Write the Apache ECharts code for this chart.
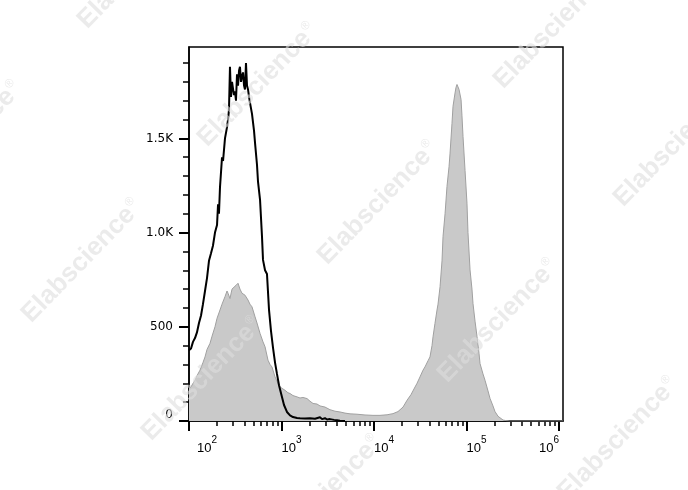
<!DOCTYPE html>
<html>
<head>
<meta charset="utf-8">
<script src="https://cdn.jsdelivr.net/npm/echarts@6/dist/echarts.min.js"></script>
<style>html,body{margin:0;padding:0;background:#fff}#c{width:688px;height:490px}</style>
</head>
<body>
<div id="c"></div>
<script>
// ---- data (x in log10 of fluorescence intensity, y in cell counts) ----
const blackLogX = [2.000,2.022,2.043,2.065,2.086,2.108,2.130,2.151,2.173,2.195,2.216,2.238,2.259,2.281,2.303,2.314,2.324,2.335,2.346,2.357,2.368,2.389,2.411,2.422,2.432,2.443,2.454,2.465,2.476,2.486,2.497,2.508,2.519,2.530,2.541,2.551,2.562,2.573,2.584,2.595,2.605,2.616,2.627,2.638,2.649,2.659,2.681,2.703,2.714,2.735,2.746,2.768,2.789,2.800,2.822,2.843,2.865,2.886,2.908,2.930,2.951,2.973,3.005,3.027,3.059,3.092,3.124,3.168,3.200,3.254,3.308,3.362,3.416,3.438,3.470,3.492,3.524,3.568,3.600,3.632,3.686];
const blackCounts = [376,385,420,440,470,520,560,620,690,760,850,890,930,1000,1040,1150,1100,1240,1320,1400,1380,1500,1560,1600,1650,1880,1720,1800,1790,1730,1750,1700,1840,1780,1860,1880,1800,1830,1850,1780,1760,1900,1780,1760,1720,1690,1630,1540,1475,1360,1270,1174,980,855,800,780,590,480,390,310,250,190,128,85,48,30,21,16,14,13,15,12,20,10,15,8,10,6,4,2,0];

const grayLogX = [2.000,2.022,2.043,2.065,2.086,2.119,2.151,2.173,2.195,2.227,2.249,2.281,2.303,2.335,2.357,2.389,2.411,2.422,2.443,2.465,2.486,2.508,2.530,2.551,2.573,2.605,2.638,2.659,2.681,2.714,2.735,2.768,2.800,2.822,2.854,2.876,2.897,2.930,2.962,2.984,3.016,3.038,3.070,3.092,3.124,3.168,3.200,3.232,3.276,3.308,3.341,3.384,3.416,3.470,3.524,3.578,3.632,3.686,3.741,3.816,3.903,3.989,4.065,4.141,4.205,4.259,4.314,4.357,4.400,4.432,4.465,4.497,4.530,4.551,4.584,4.605,4.627,4.638,4.659,4.681,4.692,4.714,4.735,4.746,4.768,4.789,4.811,4.822,4.843,4.854,4.876,4.886,4.897,4.908,4.919,4.941,4.951,4.962,4.984,5.005,5.016,5.038,5.059,5.070,5.092,5.114,5.135,5.146,5.178,5.200,5.232,5.254,5.286,5.308,5.341,5.362,5.395,5.427,5.470,6.043];
const grayCounts = [175,181,200,216,240,270,310,340,380,412,450,500,545,589,620,660,690,678,650,700,690,720,731,700,678,668,642,620,606,553,520,465,420,394,323,300,287,234,200,181,170,163,150,146,135,128,122,125,119,105,93,90,80,74,60,52,48,42,38,36,32,30,30,33,39,50,74,110,140,170,200,234,270,287,320,340,400,447,518,589,620,713,850,979,1100,1245,1350,1422,1580,1670,1741,1770,1786,1777,1760,1706,1620,1511,1330,1156,1000,802,700,624,530,447,360,305,250,216,160,120,80,50,25,15,5,2,0,0];

const xMajorTicks = [2, 3, 4, 5, 6];                       // decades 10^2 .. 10^6
const xMinorIntensities = [200,300,400,500,600,700,800,900,
  2000,3000,4000,5000,6000,7000,8000,9000,
  20000,30000,40000,50000,60000,70000,80000,90000,
  200000,300000,400000,500000,600000,700000,800000,900000,
  2000000];
const yMajorTicks = [0, 500, 1000, 1500];
const yMinorTicks = [100,200,300,400,600,700,800,900,1100,1200,1300,1400,1600,1700,1800,1900];

// ---- chart ----
const X_MIN = 2, X_MAX = 6.043, Y_MAX = 1985;
const rect = {left: 189, top: 47, width: 374, height: 374};
const zip = (xs, ys) => xs.map((x, i) => [x, ys[i]]);

const wmCenters = [[138,-33],[258,85],[-38,143],[554,27],[378,203],[82,261],[498,321],[674,145],[202,379],[618,439],[322,497]];
const wmColor = 'rgba(222,222,222,0.6)';
const watermarks = wmCenters.map(c => ({
  type: 'text', x: c[0], y: c[1], rotation: 0.8, z: 100, silent: true,
  style: {
    text: '{a|Elabscience}{r|®}', align: 'center', verticalAlign: 'middle',
    rich: {
      a: {fontFamily: 'Liberation Sans', fontWeight: 'bold', fontSize: 26, fill: wmColor, color: wmColor},
      r: {fontFamily: 'Liberation Sans', fontSize: 12, fill: wmColor, color: wmColor, verticalAlign: 'top', padding: [0,0,14,1]}
    }
  }
}));

const chart = echarts.init(document.getElementById('c'), null, {renderer: 'canvas'});
chart.setOption({
  animation: false,
  backgroundColor: '#ffffff',
  grid: [
    Object.assign({show: true, borderColor: '#000', borderWidth: 1.5, backgroundColor: 'rgba(0,0,0,0)'}, rect),
    Object.assign({show: false}, rect)
  ],
  xAxis: [
    {
      type: 'value', gridIndex: 0, min: X_MIN, max: X_MAX, position: 'bottom',
      axisLine: {show: true, onZero: false, lineStyle: {color: '#000', width: 1.5}},
      axisTick: {show: true, customValues: xMajorTicks, length: 10, lineStyle: {color: '#000', width: 2}},
      axisLabel: {
        customValues: xMajorTicks, margin: 14, align: 'left', alignMaxLabel: 'right',
        formatter: v => (Math.round(v) === 2 ? '{f|10}' : '{b|10}') + '{s|' + Math.round(v) + '}',
        rich: {
          b: {fontFamily: 'Liberation Sans', fontSize: 13, color: '#000', lineHeight: 20, verticalAlign: 'bottom'},
          f: {fontFamily: 'Liberation Sans', fontSize: 13, color: '#000', lineHeight: 20, verticalAlign: 'bottom', padding: [0,0,0,8]},
          s: {fontFamily: 'Liberation Sans', fontSize: 10, color: '#000', lineHeight: 10, verticalAlign: 'top'}
        }
      },
      splitLine: {show: false}
    },
    {
      type: 'value', gridIndex: 1, min: X_MIN, max: X_MAX, position: 'bottom',
      axisLine: {show: false, onZero: false},
      axisTick: {show: true, customValues: xMinorIntensities.map(Math.log10), length: 5, lineStyle: {color: '#000', width: 1.5}},
      axisLabel: {show: false},
      splitLine: {show: false}
    }
  ],
  yAxis: [
    {
      type: 'value', gridIndex: 0, min: 0, max: Y_MAX,
      axisLine: {show: true, onZero: false, lineStyle: {color: '#000', width: 1.5}},
      axisTick: {show: true, customValues: yMajorTicks, length: 10, lineStyle: {color: '#000', width: 2}},
      axisLabel: {
        customValues: yMajorTicks, margin: 16, verticalAlignMinLabel: 'bottom',
        fontFamily: 'DejaVu Sans', fontSize: 12, color: '#000',
        formatter: v => v >= 1000 ? (v / 1000).toFixed(1) + 'K' : String(v)
      },
      splitLine: {show: false}
    },
    {
      type: 'value', gridIndex: 1, min: 0, max: Y_MAX,
      axisLine: {show: false, onZero: false},
      axisTick: {show: true, customValues: yMinorTicks, length: 6, lineStyle: {color: '#000', width: 1.5}},
      axisLabel: {show: false},
      splitLine: {show: false}
    }
  ],
  series: [
    {
      name: 'stained', type: 'line', xAxisIndex: 0, yAxisIndex: 0,
      data: zip(grayLogX, grayCounts), showSymbol: false, symbol: 'none',
      lineStyle: {color: '#a0a0a0', width: 1},
      areaStyle: {color: '#c9c9c9', opacity: 1},
      z: 2
    },
    {
      name: 'control', type: 'line', xAxisIndex: 0, yAxisIndex: 0,
      data: zip(blackLogX, blackCounts), showSymbol: false, symbol: 'none',
      lineStyle: {color: '#000', width: 2},
      z: 3
    }
  ],
  graphic: watermarks
});
</script>
</body>
</html>
